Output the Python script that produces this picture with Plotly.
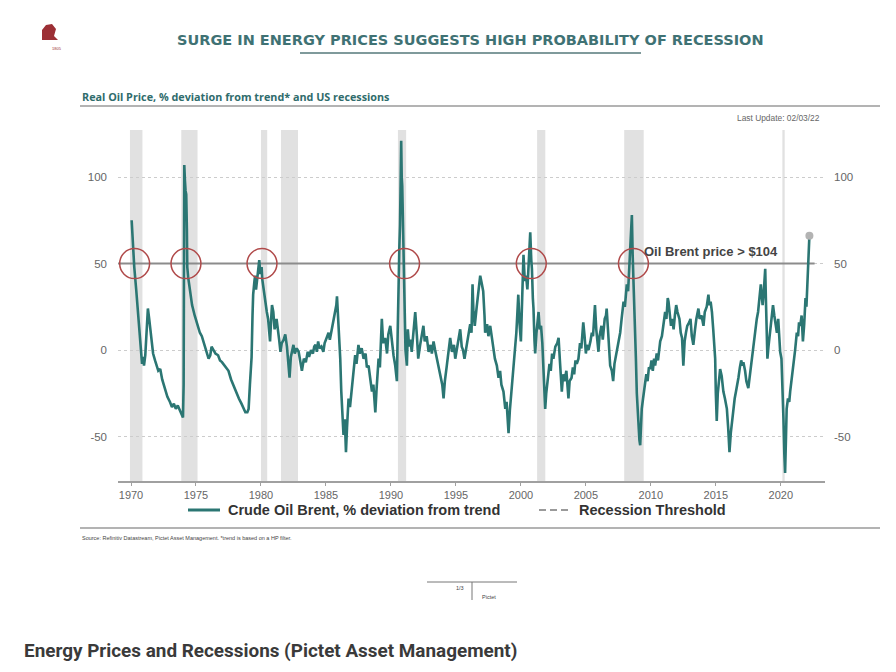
import plotly.graph_objects as go

# real oil price, % deviation from trend (decimal years)
years = [
    1970.05, 1970.15, 1970.25, 1970.4, 1970.55, 1970.7, 1970.85, 1970.95, 1971.0, 1971.1,
    1971.2, 1971.3, 1971.4, 1971.55, 1971.7, 1971.85, 1972.0, 1972.1, 1972.25, 1972.4,
    1972.6, 1972.8, 1973.0, 1973.15, 1973.3, 1973.45, 1973.6, 1973.75, 1973.9, 1974.0,
    1974.05, 1974.08, 1974.1, 1974.15, 1974.2, 1974.25, 1974.3, 1974.33, 1974.4, 1974.55,
    1974.7, 1974.9, 1975.1, 1975.3, 1975.45, 1975.65, 1975.8, 1975.97, 1976.1, 1976.2,
    1976.35, 1976.5, 1976.7, 1976.85, 1977.0, 1977.2, 1977.35, 1977.5, 1977.7, 1977.9,
    1978.1, 1978.3, 1978.5, 1978.65, 1978.8, 1978.95, 1979.05, 1979.15, 1979.2, 1979.28,
    1979.35, 1979.4, 1979.5, 1979.55, 1979.62, 1979.7, 1979.8, 1979.87, 1979.95, 1980.05,
    1980.1, 1980.2, 1980.33, 1980.45, 1980.55, 1980.65, 1980.7, 1980.8, 1980.85, 1980.95,
    1981.05, 1981.2, 1981.3, 1981.4, 1981.5, 1981.6, 1981.75, 1981.87, 1982.0, 1982.1,
    1982.2, 1982.3, 1982.4, 1982.5, 1982.6, 1982.75, 1982.9, 1983.0, 1983.15, 1983.3,
    1983.45, 1983.6, 1983.7, 1983.85, 1984.0, 1984.1, 1984.2, 1984.3, 1984.4, 1984.5,
    1984.65, 1984.8, 1984.9, 1985.05, 1985.2, 1985.3, 1985.45, 1985.6, 1985.7, 1985.8,
    1985.85, 1985.92, 1986.0, 1986.1, 1986.18, 1986.25, 1986.35, 1986.45, 1986.54, 1986.62,
    1986.74, 1986.85, 1987.0, 1987.1, 1987.25, 1987.35, 1987.5, 1987.6, 1987.75, 1987.9,
    1988.05, 1988.15, 1988.28, 1988.4, 1988.54, 1988.65, 1988.8, 1988.9, 1989.05, 1989.15,
    1989.3, 1989.4, 1989.56, 1989.7, 1989.8, 1989.95, 1990.1, 1990.2, 1990.33, 1990.46,
    1990.52, 1990.58, 1990.65, 1990.7, 1990.75, 1990.79, 1990.83, 1990.87, 1990.91, 1990.95,
    1991.0, 1991.05, 1991.12, 1991.23, 1991.3, 1991.4, 1991.5, 1991.6, 1991.75, 1991.87,
    1992.0, 1992.1, 1992.25, 1992.38, 1992.5, 1992.6, 1992.75, 1992.9, 1993.05, 1993.15,
    1993.28, 1993.4, 1993.55, 1993.66, 1993.8, 1993.95, 1994.05, 1994.15, 1994.3, 1994.42,
    1994.56, 1994.7, 1994.85, 1994.95, 1995.1, 1995.2, 1995.33, 1995.45, 1995.55, 1995.66,
    1995.8, 1995.97, 1996.1, 1996.2, 1996.28, 1996.35, 1996.45, 1996.6, 1996.75, 1996.87,
    1997.0, 1997.1, 1997.2, 1997.25, 1997.4, 1997.5, 1997.64, 1997.8, 1997.9, 1998.0,
    1998.15, 1998.28, 1998.4, 1998.5, 1998.66, 1998.8, 1998.9, 1999.05, 1999.15, 1999.3,
    1999.4, 1999.5, 1999.56, 1999.65, 1999.72, 1999.8, 1999.9, 2000.0, 2000.1, 2000.2,
    2000.3, 2000.4, 2000.5, 2000.6, 2000.72, 2000.8, 2000.85, 2000.92, 2000.97, 2001.05,
    2001.1, 2001.2, 2001.36, 2001.45, 2001.55, 2001.65, 2001.75, 2001.87, 2001.95, 2002.1,
    2002.2, 2002.3, 2002.4, 2002.5, 2002.65, 2002.8, 2002.9, 2003.0, 2003.15, 2003.25,
    2003.35, 2003.5, 2003.6, 2003.66, 2003.75, 2003.9, 2004.0, 2004.1, 2004.2, 2004.3,
    2004.43, 2004.55, 2004.65, 2004.8, 2004.9, 2005.0, 2005.07, 2005.2, 2005.35, 2005.46,
    2005.55, 2005.62, 2005.7, 2005.8, 2005.9, 2005.97, 2006.05, 2006.2, 2006.3, 2006.45,
    2006.55, 2006.6, 2006.7, 2006.8, 2006.87, 2007.0, 2007.1, 2007.2, 2007.3, 2007.38,
    2007.5, 2007.64, 2007.75, 2007.85, 2007.9, 2008.0, 2008.15, 2008.25, 2008.35, 2008.45,
    2008.54, 2008.6, 2008.66, 2008.72, 2008.78, 2008.85, 2008.92, 2009.0, 2009.05, 2009.12,
    2009.18, 2009.25, 2009.3, 2009.4, 2009.5, 2009.56, 2009.65, 2009.75, 2009.85, 2009.95,
    2010.05, 2010.15, 2010.25, 2010.33, 2010.45, 2010.55, 2010.65, 2010.72, 2010.85, 2010.95,
    2011.1, 2011.2, 2011.3, 2011.36, 2011.45, 2011.55, 2011.65, 2011.75, 2011.85, 2011.95,
    2012.05, 2012.2, 2012.3, 2012.4, 2012.5, 2012.6, 2012.7, 2012.8, 2012.95, 2013.05,
    2013.15, 2013.27, 2013.4, 2013.5, 2013.66, 2013.75, 2013.9, 2014.05, 2014.15, 2014.3,
    2014.43, 2014.5, 2014.6, 2014.7, 2014.8, 2014.88, 2014.95, 2015.0, 2015.07, 2015.15,
    2015.25, 2015.33, 2015.45, 2015.58, 2015.7, 2015.85, 2015.95, 2016.05, 2016.15, 2016.25,
    2016.36, 2016.45, 2016.55, 2016.65, 2016.74, 2016.85, 2016.95, 2017.05, 2017.12, 2017.25,
    2017.35, 2017.5, 2017.6, 2017.7, 2017.8, 2017.9, 2018.0, 2018.15, 2018.25, 2018.35,
    2018.46, 2018.55, 2018.6, 2018.7, 2018.8, 2018.85, 2018.92, 2018.97, 2019.05, 2019.15,
    2019.2, 2019.3, 2019.4, 2019.5, 2019.6, 2019.7, 2019.8, 2019.88, 2019.95, 2020.05,
    2020.12, 2020.2, 2020.27, 2020.33, 2020.4, 2020.45, 2020.55, 2020.65, 2020.72, 2020.82,
    2020.9, 2021.0, 2021.1, 2021.23, 2021.33, 2021.4, 2021.5, 2021.6, 2021.7, 2021.8,
    2021.9, 2021.97, 2022.05, 2022.12, 2022.2,
]
deviation = [
    75, 60, 48, 35, 20, 5, -8, -4, -9, -3,
    10, 24, 18, 8, -2, -6, -10, -12, -11, -17,
    -22, -27, -30, -33, -31, -34, -32, -35, -37, -39,
    -20, 60, 107, 98, 92, 90, 70, 48, 42, 33,
    26, 20, 15, 10, 8, 3, -1, -5, -3, 2,
    0, -2, -3, -6, -7, -9, -11, -12, -17, -21,
    -25, -28, -31, -34, -36, -36, -34, -20, -14, -4,
    20, 32, 40, 43, 35, 40, 45, 52, 44, 48,
    41, 35, 28, 22, 18, 8, 5, 20, 26, 22,
    12, 18, 10, 6, -1, 4, 6, 9, 2, -8,
    -16, -4, 0, 3, -2, 1, -1, -6, -12, -5,
    -7, -1, -4, 0, -2, 2, 3, -1, 5, 1,
    2, -1, 4, 7, 10, 6, 12, 16, 20, 26,
    31, 20, 14, -5, -24, -36, -49, -40, -59, -45,
    -28, -33, -20, -12, -3, -8, 3, -2, 1, -5,
    -2, -10, -9, -16, -24, -20, -36, -22, -5, -10,
    18, 4, 7, -2, 9, 14, 2, -3, -9, -18,
    10, 43, 60, 72, 105, 121, 100, 95, 80, 61,
    35, 14, 0, -9, 12, 2, 6, -1, 10, 22,
    8, -5, 3, 10, 14, 5, 8, -1, 3, -2,
    5, 0, -5, -9, -15, -20, -28, -18, -9, 0,
    7, -1, 3, -5, 2, 4, 12, 2, 0, -5,
    1, 7, 15, 10, 38, 22, 14, 25, 35, 43,
    38, 34, 20, 10, 15, 8, 14, 5, 2, -5,
    -9, -16, -12, -20, -24, -34, -30, -48, -35, -22,
    -10, -2, 5, 10, 20, 32, 15, 5, 30, 55,
    40, 43, 35, 50, 68, 52, 47, 30, 24, 5,
    -2, 10, 22, 12, 14, 4, -10, -34, -25, -16,
    -8, -12, -2, -5, 2, 4, 7, -6, -24, -14,
    -18, -12, -20, -28, -18, -16, -10, -14, -6, -8,
    -5, 4, 1, 16, 8, -2, 3, 0, 5, 10,
    8, 20, 26, 12, 5, -1, 8, 14, 6, 18,
    20, 24, 12, 2, -9, -12, -18, -8, -4, -1,
    5, 10, 18, 24, 28, 25, 38, 34, 50, 57,
    78, 55, 43, 25, 10, -5, -25, -40, -49, -52,
    -55, -45, -34, -28, -22, -20, -14, -18, -10, -11,
    -6, -12, -5, -9, -2, -6, 2, 5, 8, 15,
    22, 18, 30, 28, 20, 14, 18, 12, 20, 26,
    22, 18, 10, 7, -9, 5, 10, 14, 16, 18,
    8, 3, 12, 18, 24, 18, 20, 14, 22, 25,
    32, 26, 28, 22, 12, 0, -5, -25, -41, -25,
    -18, -11, -15, -24, -28, -34, -45, -59, -48, -40,
    -34, -28, -24, -18, -16, -10, -6, -9, -7, -12,
    -18, -22, -16, -8, -2, 5, 10, 18, 22, 30,
    38, 30, 26, 35, 47, 30, 10, -5, 2, 8,
    14, 20, 26, 20, 14, 10, 18, 8, -1, -5,
    -18, -39, -60, -71, -50, -34, -28, -30, -24, -18,
    -12, -9, 0, 10, 8, 16, 14, 20, 5, 15,
    30, 25, 38, 52, 66,
]

# US recessions (start, end)
recession_start = [1969.92, 1973.87, 1980.0, 1981.54, 1990.54, 2001.25, 2007.95, 2020.12]
recession_end = [1970.88, 1975.12, 1980.48, 1982.85, 1991.17, 2001.88, 2009.45, 2020.3]

# threshold and the points where the oil price crossed it ahead of recessions
threshold = 50
threshold_span = [1969.0, 2022.6]
circle_years = [1970.28, 1974.23, 1980.08, 1991.05, 2000.8, 2008.66]

x_ticks = [1970, 1975, 1980, 1985, 1990, 1995, 2000, 2005, 2010, 2015, 2020]
y_ticks = [-50, 0, 50, 100]

TEAL = "#2b7673"
TITLE_TEAL = "#3f7274"

# page is shown with an 8px body margin
OFF = 8
W, H = 896 - 2 * OFF, 672 - 2 * OFF
# plot area in reference page pixels (left, right, top, bottom)
L, R, T, B = 118, 825, 130, 481


def px(p):
    return (p - L) / (R - L)


def py(p):
    return (B - p) / (B - T)


fig = go.Figure()

fig.add_trace(go.Scatter(
    x=threshold_span, y=[threshold, threshold], mode="lines",
    line=dict(color="#8c8c8c", width=2), showlegend=False, hoverinfo="skip",
))
fig.add_trace(go.Scatter(
    x=years, y=deviation, mode="lines",
    line=dict(color=TEAL, width=2.6), showlegend=False,
    name="Crude Oil Brent, % deviation from trend",
))
fig.add_trace(go.Scatter(
    x=[years[-1]], y=[deviation[-1]], mode="markers",
    marker=dict(color="#b3b3b3", size=8), showlegend=False, hoverinfo="skip",
))
# dummy on the right axis so it gets drawn
fig.add_trace(go.Scatter(
    x=[None], y=[None], yaxis="y2", showlegend=False, hoverinfo="skip",
))

# recession bars
for s, e in zip(recession_start, recession_end):
    fig.add_shape(type="rect", xref="x", yref="paper", x0=s, x1=e, y0=0, y1=1,
                  fillcolor="#e1e1e1", line=dict(width=0), layer="below")

# red circles at the threshold
for c in circle_years:
    fig.add_shape(type="circle", xref="x", yref="y",
                  x0=c - 1.15, x1=c + 1.15, y0=threshold - 8.7, y1=threshold + 8.7,
                  line=dict(color="#b04a4a", width=1.5))

fig.add_annotation(x=2009.3, y=57, xref="x", yref="y", xanchor="left", yanchor="middle",
                   text="<b>Oil Brent price > $104</b>", showarrow=False,
                   font=dict(family="Liberation Sans", size=13, color="#444444"))

# header
fig.add_annotation(x=px(470), y=py(40), xref="paper", yref="paper", text="<b>SURGE IN ENERGY PRICES SUGGESTS HIGH PROBABILITY OF RECESSION</b>",
                   showarrow=False, xanchor="center", yanchor="middle",
                   font=dict(family="DejaVu Sans", size=14.5, color=TITLE_TEAL))
fig.add_shape(type="line", xref="paper", yref="paper", x0=px(300), x1=px(641), y0=py(53), y1=py(53),
              line=dict(color="#7f9a9b", width=2))
fig.add_annotation(x=px(80), y=py(96), xref="paper", yref="paper", text="<b>Real Oil Price, % deviation from trend* and US recessions</b>",
                   showarrow=False, xanchor="left", yanchor="middle",
                   font=dict(family="Open Sans", size=10.8, color="#2f6c6c"))
fig.add_shape(type="line", xref="paper", yref="paper", x0=px(80), x1=px(880), y0=py(106), y1=py(106),
              line=dict(color="#9a9a9a", width=1.5))
fig.add_annotation(x=px(822), y=py(118), xref="paper", yref="paper", text="Last Update: 02/03/22",
                   showarrow=False, xanchor="right", yanchor="middle",
                   font=dict(family="Liberation Sans", size=8.4, color="#666666"))

# logo
fig.add_shape(type="path", xref="paper", yref="paper",
              path=f"M {px(42)},{py(40)} L {px(42)},{py(30)} L {px(46)},{py(25)} L {px(52)},{py(24)} "
                   f"L {px(56)},{py(29)} L {px(54)},{py(36)} L {px(58)},{py(40)} Z",
              fillcolor="#9c2f35", line=dict(width=0))
fig.add_annotation(x=px(50), y=py(44), xref="paper", yref="paper", text="1805", showarrow=False,
                   font=dict(family="Liberation Sans", size=4, color="#9c2f35"))

# legend
fig.add_shape(type="line", xref="paper", yref="paper", x0=px(188), x1=px(220), y0=py(510), y1=py(510),
              line=dict(color=TEAL, width=3))
fig.add_annotation(x=px(226), y=py(510), xref="paper", yref="paper", text="<b>Crude Oil Brent, % deviation from trend</b>",
                   showarrow=False, xanchor="left", yanchor="middle",
                   font=dict(family="Liberation Sans", size=14.5, color="#333333"))
fig.add_shape(type="line", xref="paper", yref="paper", x0=px(539), x1=px(569), y0=py(510), y1=py(510),
              line=dict(color="#9a9a9a", width=2.2, dash="7px,4px"))
fig.add_annotation(x=px(577), y=py(510), xref="paper", yref="paper", text="<b>Recession Threshold</b>",
                   showarrow=False, xanchor="left", yanchor="middle",
                   font=dict(family="Liberation Sans", size=14.5, color="#333333"))

# source + footer
fig.add_shape(type="line", xref="paper", yref="paper", x0=px(80), x1=px(880), y0=py(528), y1=py(528),
              line=dict(color="#9a9a9a", width=1.5))
fig.add_annotation(x=px(80), y=py(538), xref="paper", yref="paper",
                   text="Source: Refinitiv Datastream, Pictet Asset Management. *trend is based on a HP filter.",
                   showarrow=False, xanchor="left", yanchor="middle",
                   font=dict(family="Liberation Sans", size=5.5, color="#444444"))
fig.add_shape(type="line", xref="paper", yref="paper", x0=px(427), x1=px(517), y0=py(582), y1=py(582),
              line=dict(color="#777777", width=1))
fig.add_shape(type="line", xref="paper", yref="paper", x0=px(472), x1=px(472), y0=py(582), y1=py(600),
              line=dict(color="#777777", width=1))
fig.add_annotation(x=px(466), y=py(588), xref="paper", yref="paper", text="1/3", showarrow=False,
                   xanchor="right", yanchor="middle",
                   font=dict(family="Liberation Sans", size=5.5, color="#444444"))
fig.add_annotation(x=px(480), y=py(597), xref="paper", yref="paper", text="Pictet", showarrow=False,
                   xanchor="left", yanchor="middle",
                   font=dict(family="Liberation Sans", size=5.5, color="#444444"))

# caption
fig.add_annotation(x=px(22), y=py(650), xref="paper", yref="paper",
                   text="<b>Energy Prices and Recessions (Pictet Asset Management)</b>",
                   showarrow=False, xanchor="left", yanchor="middle",
                   font=dict(family="Roboto", size=18.9, color="#3a3a3a"))

y_range = [-75.7, 127.2]
fig.update_layout(
    width=W, height=H,
    margin=dict(l=L - OFF, r=W - (R - OFF), t=T - OFF, b=H - (B - OFF)),
    paper_bgcolor="white", plot_bgcolor="white",
    showlegend=False,
    font=dict(family="Liberation Sans", color="#666666"),
    xaxis=dict(
        range=[1969.0, 2023.4], tickvals=x_ticks, ticktext=[str(v) for v in x_ticks],
        showgrid=False, zeroline=False, showline=True, linecolor="#a0a0a0", linewidth=1.5,
        ticks="outside", ticklen=3, tickcolor="#a0a0a0", tickfont=dict(size=11, color="#666666"),
    ),
    yaxis=dict(
        range=y_range, tickvals=y_ticks, ticktext=[str(v) for v in y_ticks],
        showgrid=True, gridcolor="#cccccc", griddash="3px,3px", gridwidth=1,
        zeroline=False, showline=False, ticks="", ticklabelstandoff=10,
        tickfont=dict(size=11.5, color="#666666"),
    ),
    yaxis2=dict(
        range=y_range, tickvals=y_ticks, ticktext=[str(v) for v in y_ticks],
        overlaying="y", side="right", showgrid=False, zeroline=False, showline=False,
        ticks="", ticklabelstandoff=8, tickfont=dict(size=11.5, color="#666666"),
    ),
)

fig.write_html("out.html")
